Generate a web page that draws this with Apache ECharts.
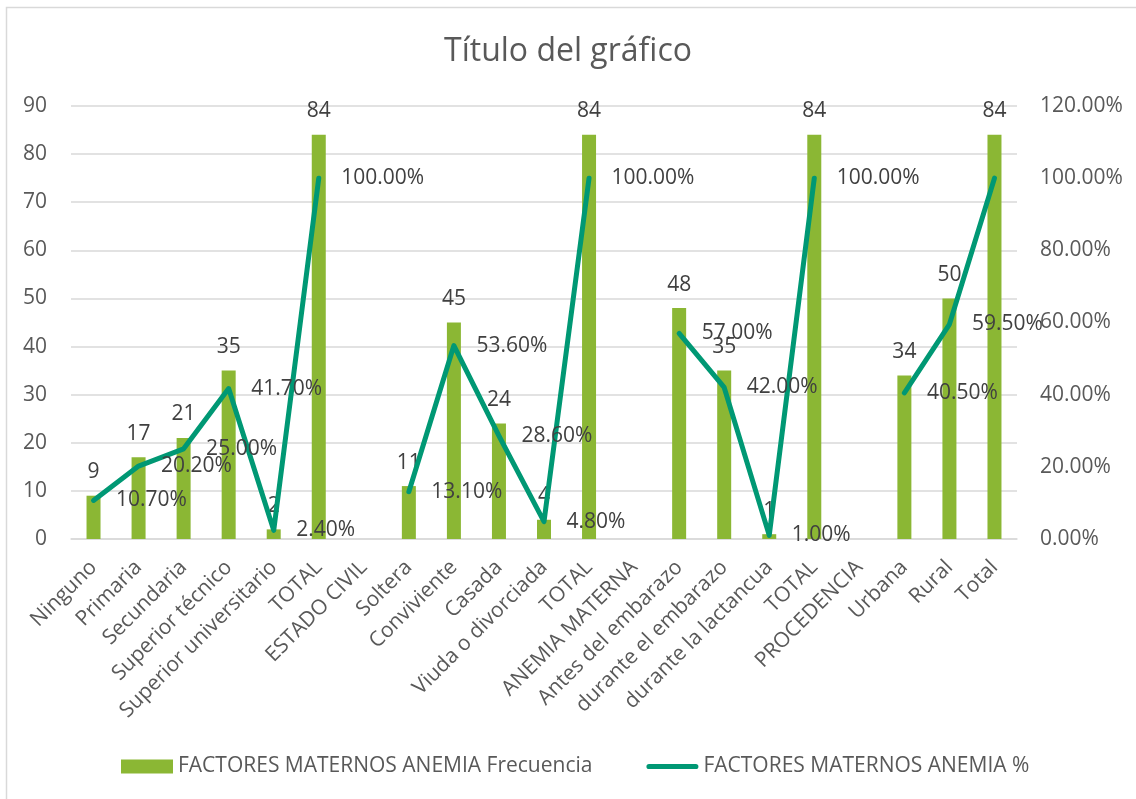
<!DOCTYPE html>
<html>
<head>
<meta charset="utf-8">
<script src="https://cdn.jsdelivr.net/npm/echarts@6/dist/echarts.min.js"></script>
<style>
html,body{margin:0;padding:0;background:#fff;}
#chart{width:1136px;height:799px;}
</style>
</head>
<body>
<div id="chart"></div>
<script>
const categories = ["Ninguno","Primaria","Secundaria","Superior técnico","Superior universitario","TOTAL","ESTADO CIVIL","Soltera","Conviviente","Casada","Viuda o divorciada","TOTAL","ANEMIA MATERNA","Antes del embarazo","durante el embarazo","durante la lactancua","TOTAL","PROCEDENCIA","Urbana","Rural","Total"];
const frecuencia = [9,17,21,35,2,84,null,11,45,24,4,84,null,48,35,1,84,null,34,50,84];
const porcentaje = [0.107,0.202,0.25,0.417,0.024,1.0,null,0.131,0.536,0.286,0.048,1.0,null,0.57,0.42,0.01,1.0,null,0.405,0.595,1.0];
// the last point's % label is not shown in the original chart
const hiddenPctLabels = [20];
const leftTicks = {min:0,max:90,interval:10};
const rightTicks = {min:0,max:1.2,interval:0.2};
const seriesNames = ["FACTORES MATERNOS ANEMIA Frecuencia","FACTORES MATERNOS ANEMIA %"];
const titleText = "Título del gráfico";

const FONT = "'Open Sans', sans-serif";
const pct = v => (v*100).toFixed(2) + '%';
const chart = echarts.init(document.getElementById('chart'), null, {renderer:'canvas'});
chart.setOption({
  animation:false,
  backgroundColor:'#ffffff',
  textStyle:{fontFamily:FONT},
  graphic:[{type:'rect',shape:{x:6.5,y:7.5,width:1200,height:900},style:{fill:'none',stroke:'#d9d9d9',lineWidth:1.5},silent:true,z:-1}],
  title:{text:titleText,left:'center',top:31,textStyle:{fontFamily:FONT,fontSize:32,fontWeight:'normal',color:'#595959'}},
  legend:{
    top:751,left:116,itemGap:54,itemWidth:52,itemHeight:14,
    textStyle:{fontFamily:FONT,fontSize:21,color:'#595959',padding:[0,0,0,0]},
    data:[
      {name:seriesNames[0],icon:'rect'},
      {name:seriesNames[1],icon:'path://M2.5,0 L47.5,0 A2.5,2.5 0 0 1 47.5,5 L2.5,5 A2.5,2.5 0 0 1 2.5,0 Z'}
    ]
  },
  grid:{left:71,right:119,top:106,bottom:260,containLabel:false},
  xAxis:{
    type:'category',data:categories,
    axisTick:{show:false},
    axisLine:{lineStyle:{color:'#d9d9d9',width:1.5}},
    axisLabel:{rotate:45,interval:0,fontFamily:FONT,fontSize:21,color:'#595959',margin:25}
  },
  yAxis:[
    {type:'value',min:leftTicks.min,max:leftTicks.max,interval:leftTicks.interval,
     axisLine:{show:false},axisTick:{show:false},
     splitLine:{lineStyle:{color:'#d9d9d9',width:1.5}},
     axisLabel:{fontFamily:FONT,fontSize:21,color:'#595959',margin:24}},
    {type:'value',min:rightTicks.min,max:rightTicks.max,interval:rightTicks.interval,
     axisLine:{show:false},axisTick:{show:false},splitLine:{show:false},
     axisLabel:{fontFamily:FONT,fontSize:21,color:'#595959',margin:23,formatter:pct}}
  ],
  series:[
    {name:seriesNames[0],type:'bar',data:frecuencia,barWidth:14,
     itemStyle:{color:'#8BB734'},
     label:{show:true,position:'top',distance:13,fontFamily:FONT,fontSize:21,color:'#404040'}},
    {name:seriesNames[1],type:'line',yAxisIndex:1,
     data:porcentaje.map((v,i)=> hiddenPctLabels.includes(i) ? {value:v,label:{show:false}} : v),
     symbol:'circle',symbolSize:1,showSymbol:true,connectNulls:false,
     lineStyle:{color:'#009874',width:5,cap:'round',join:'round'},
     itemStyle:{color:'#009874'},
     label:{show:true,position:'right',distance:22,fontFamily:FONT,fontSize:21,color:'#404040',formatter:p=>pct(p.value)}}
  ]
});
</script>
</body>
</html>
